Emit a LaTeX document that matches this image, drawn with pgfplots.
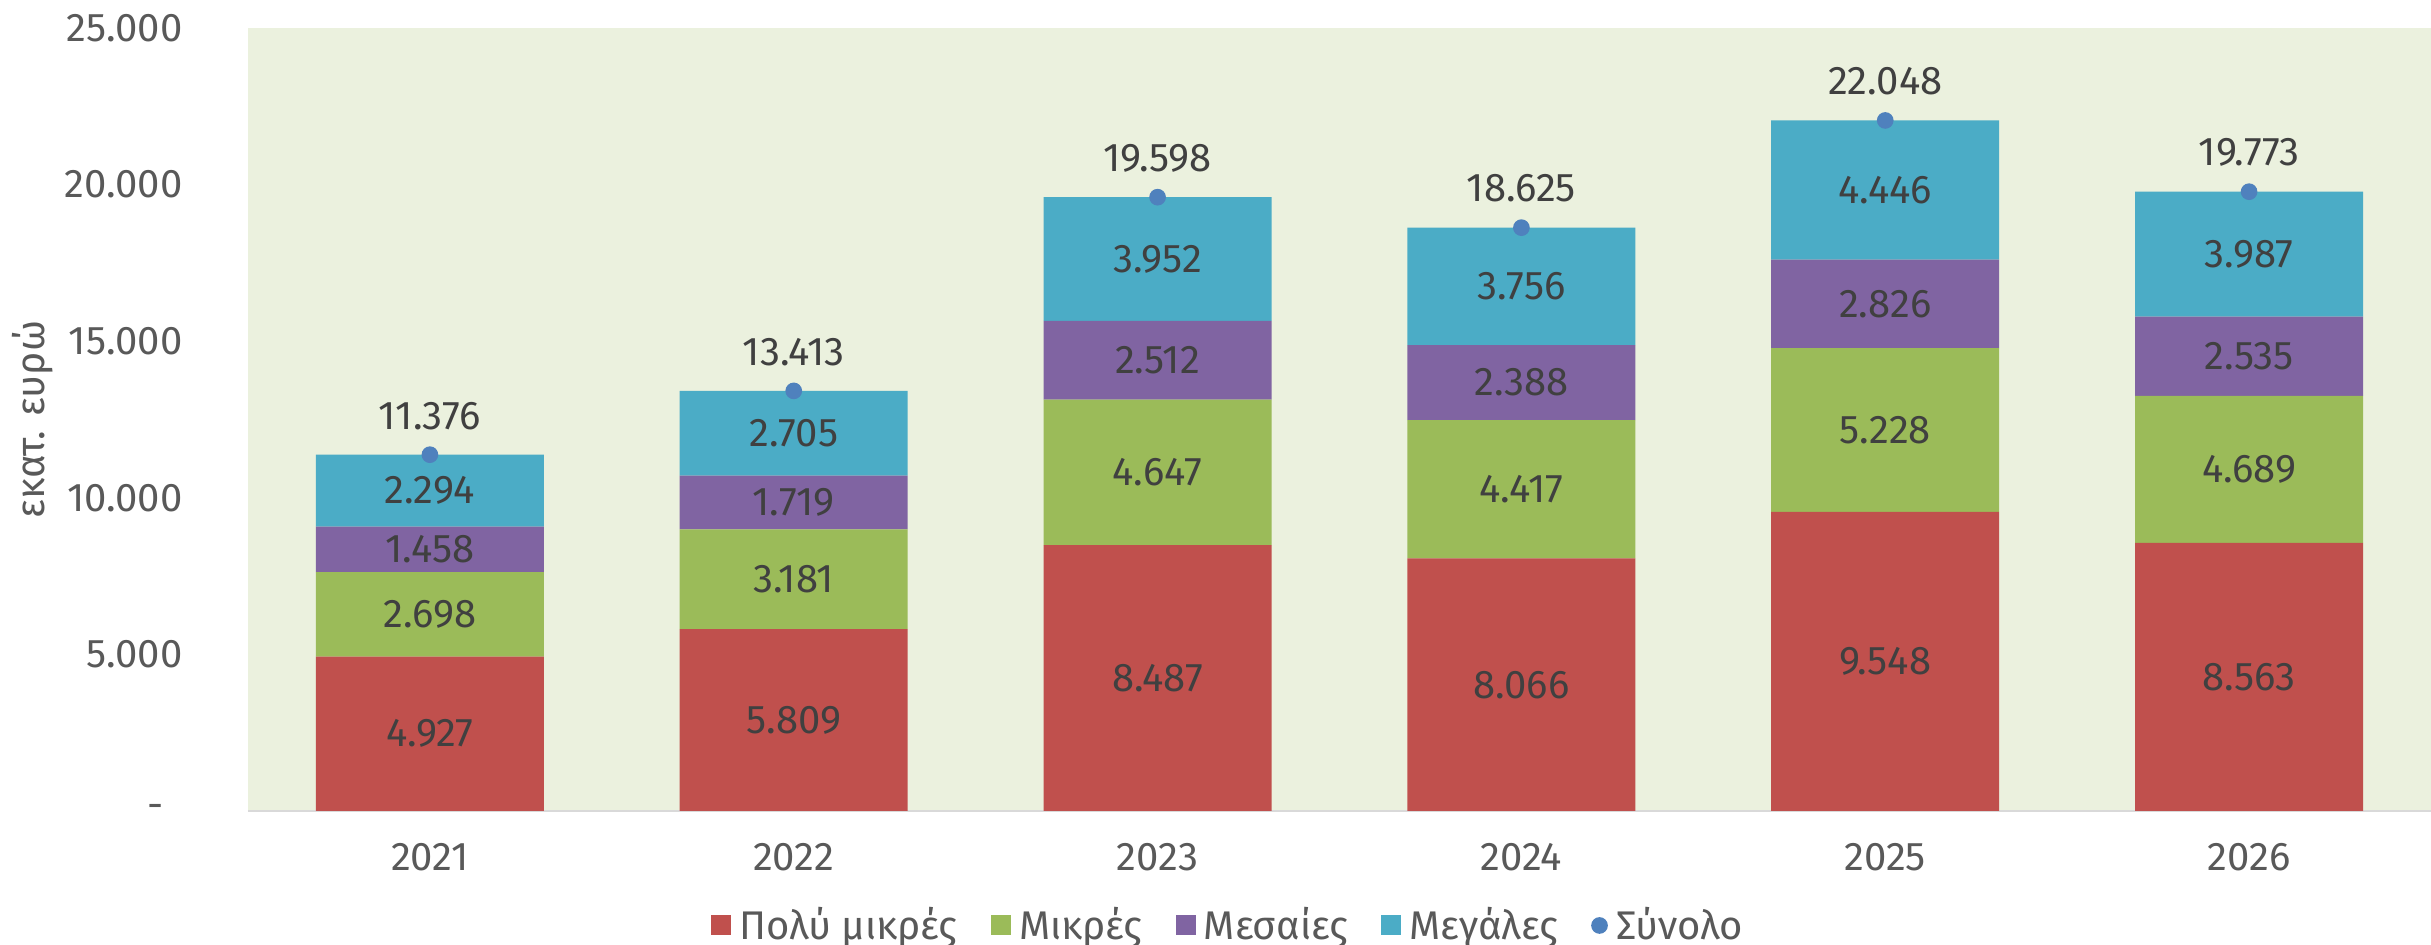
\documentclass[border=0pt]{standalone}
\usepackage{fontspec}
\setmainfont{Fira Sans}
\usepackage{pgfplots}
\usepackage{pgfplotstable}
\pgfplotsset{compat=1.18}

\definecolor{cVerySmall}{HTML}{C0504D}
\definecolor{cSmall}{HTML}{9BBB59}
\definecolor{cMedium}{HTML}{8064A2}
\definecolor{cLarge}{HTML}{4BACC6}
\definecolor{cTotal}{HTML}{4F81BD}
\definecolor{plotbg}{HTML}{EBF1DE}
\definecolor{axisgray}{HTML}{D9D9D9}
\definecolor{ticktext}{HTML}{595959}
\definecolor{valtext}{HTML}{404040}

% Annual amounts (million EUR) by enterprise size
\pgfplotstableread{
x  year  vsmall small medium large total
0  2021  4927   2698  1458   2294  11376
1  2022  5809   3181  1719   2705  13413
2  2023  8487   4647  2512   3952  19598
3  2024  8066   4417  2388   3756  18625
4  2025  9548   5228  2826   4446  22048
5  2026  8563   4689  2535   3987  19773
}\datatable

\tikzset{vallabel/.style={font=\fontsize{12}{14}\selectfont, text=valtext}}

\pgfplotsset{
  common/.style={
    scale only axis,
    width=654.9pt, height=234.9pt,
    at={(0,0)}, anchor=south west,
    xmin=-0.5, xmax=5.5,
    ymin=0, ymax=25000,
    enlargelimits=false,
    scaled y ticks=false,
    /pgf/number format/.cd, 1000 sep={.}, fixed, precision=0, assume math mode=true,
    /pgfplots/.cd,
  },
  seglabel/.style={draw=none, mark=none, point meta=explicit, nodes near coords,
    every node near coord/.append style={vallabel, anchor=center}},
}

\begin{document}
\begin{tikzpicture}
\path[use as bounding box] (-74.4pt,-40.2pt) rectangle (654.9pt,243.3pt);

\begin{axis}[
  common,
  ybar stacked,
  bar width=68.4pt,
  axis background/.style={fill=plotbg},
  axis x line*=bottom,
  axis y line*=left,
  x axis line style={draw=axisgray, line width=0.7pt},
  y axis line style={draw=none},
  major tick length=0pt,
  xtick={0,1,2,3,4,5},
  xticklabels={2021,2022,2023,2024,2025,2026},
  xticklabel style={anchor=center, yshift=-13.8pt, font=\fontsize{12}{14}\selectfont, text=ticktext},
  ytick={0,5000,10000,15000,20000,25000},
  yticklabels={{\makebox[10.5pt][l]{-}},5.000,10.000,15.000,20.000,25.000},
  yticklabel style={anchor=east, inner sep=0pt, xshift=-19.5pt, font=\fontsize{12}{14}\selectfont, text=ticktext},
  ylabel={εκατ. ευρώ},
  every axis y label/.style={at={(axis description cs:0,0.5)}, xshift=-64.5pt, rotate=90, anchor=center, font=\fontsize{12}{14}\selectfont, text=ticktext},
  legend style={
    at={(axis description cs:0.4503,-0.1462)}, anchor=center,
    draw=none, fill=none,
    legend columns=-1,
    font=\fontsize{12}{14}\selectfont, text=ticktext,
    /tikz/every even column/.append style={column sep=7.5pt},
    /tikz/every odd column/.append style={column sep=0pt},
    legend cell align=left,
    inner sep=0pt,
    nodes={inner xsep=2.5pt},
  },
  legend image code/.code={\fill[#1] (0pt,-3pt) rectangle (6pt,3pt);},
]
\addplot[fill=cVerySmall, draw=none] table[x=x, y=vsmall] {\datatable};
\addplot[fill=cSmall, draw=none] table[x=x, y=small] {\datatable};
\addplot[fill=cMedium, draw=none] table[x=x, y=medium] {\datatable};
\addplot[fill=cLarge, draw=none] table[x=x, y=large] {\datatable};
\legend{Πολύ μικρές, Μικρές, Μεσαίες, Μεγάλες}
\addlegendimage{legend image code/.code={\fill[cTotal] (3pt,0pt) circle (2.3pt);}}
\addlegendentry{Σύνολο}
\end{axis}

% Segment values at the middle of each segment, totals as dots on top
\begin{axis}[
  common,
  hide axis,
]
\addplot[seglabel] table[x=x, y expr={\thisrow{vsmall}/2}, meta=vsmall] {\datatable};
\addplot[seglabel] table[x=x, y expr={\thisrow{vsmall}+\thisrow{small}/2}, meta=small] {\datatable};
\addplot[seglabel] table[x=x, y expr={\thisrow{vsmall}+\thisrow{small}+\thisrow{medium}/2}, meta=medium] {\datatable};
\addplot[seglabel] table[x=x, y expr={\thisrow{vsmall}+\thisrow{small}+\thisrow{medium}+\thisrow{large}/2}, meta=large] {\datatable};
\addplot[only marks, mark=*, mark size=2.3pt, color=cTotal, point meta=explicit, nodes near coords,
  every node near coord/.append style={vallabel, anchor=center, yshift=11.7pt}]
  table[x=x, y=total, meta=total] {\datatable};
\end{axis}
\end{tikzpicture}
\end{document}
